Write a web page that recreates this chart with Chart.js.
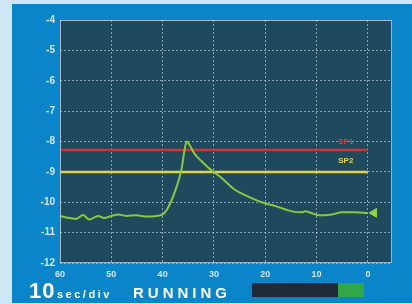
<!DOCTYPE html>
<html>
<head>
<meta charset="utf-8">
<script src="https://cdn.jsdelivr.net/npm/chart.js@4/dist/chart.umd.min.js"></script>
<style>
  html, body { margin: 0; padding: 0; }
  body { width: 412px; height: 304px; background: #cfe6f6; position: relative; overflow: hidden; }
  #panel { position: absolute; left: 12px; top: 4px; width: 400px; height: 299px; background: #0a85c9; }
  canvas { display: block; }
</style>
</head>
<body>
<div id="panel"><canvas id="trend" width="400" height="299"></canvas></div>
<script>
// seconds ago (60 = left edge, 0 = now)
const secondsAgo = [60, 58.8, 56.9, 55.5, 54.3, 52.6, 51.4, 50, 48.6, 47.1, 45.1, 43.2, 41.2, 39.8, 38.7, 37.5,
  36.3, 35.7, 35.3, 34.8, 33.8, 32.4, 30.5, 28.5, 26, 23.5, 20.7, 18.1, 14.8, 12.8, 12.3, 10.9, 9.5, 7.0, 5.0, 2.5, 0];
const pressure = [-10.45, -10.5, -10.55, -10.42, -10.57, -10.45, -10.52, -10.45, -10.4, -10.45, -10.43, -10.47, -10.45, -10.38, -10.1, -9.6,
  -8.9, -8.25, -8.0, -8.1, -8.4, -8.65, -8.95, -9.2, -9.58, -9.8, -10.0, -10.12, -10.3, -10.33, -10.3, -10.36, -10.43, -10.4, -10.33, -10.33, -10.35];

const sp1 = -8.28;
const sp2 = -9.0;
const xTicks = [60, 50, 40, 30, 20, 10, 0];
const yTicks = [-4, -5, -6, -7, -8, -9, -10, -11, -12];

const gridColor = 'rgba(210,220,230,0.6)';
const tickColor = '#d6e6f3';

const panelDeco = {
  id: 'panelDeco',
  beforeDraw(chart) {
    const { ctx, chartArea: a } = chart;
    ctx.save();
    ctx.fillStyle = '#1f4a5e';
    ctx.fillRect(a.left, a.top, a.right - a.left, a.bottom - a.top);
    ctx.restore();
  },
  afterDatasetsDraw(chart) {
    const { ctx, chartArea: a, scales } = chart;
    ctx.save();
    ctx.strokeStyle = 'rgba(190,205,215,0.8)';
    ctx.lineWidth = 1;
    ctx.strokeRect(a.left + 0.5, a.top + 0.5, a.right - a.left - 1, a.bottom - a.top - 1);

    // setpoint labels
    ctx.font = 'bold 8px "Liberation Sans", Arial, sans-serif';
    ctx.textAlign = 'center';
    ctx.textBaseline = 'middle';
    const lx = scales.x.getPixelForValue(4.3);
    ctx.fillStyle = '#e83a3a';
    ctx.fillText('SP1', lx, scales.y.getPixelForValue(-8.0));
    ctx.fillStyle = '#e6d24a';
    ctx.fillText('SP2', lx, scales.y.getPixelForValue(-8.65));

    // footer
    ctx.fillStyle = '#ffffff';
    ctx.textAlign = 'left';
    ctx.textBaseline = 'alphabetic';
    ctx.font = 'bold 22px "Liberation Sans", Arial, sans-serif';
    ctx.letterSpacing = '1px';
    ctx.fillText('10', 17, 294);
    ctx.font = 'bold 11px "Liberation Sans", Arial, sans-serif';
    ctx.letterSpacing = '2.5px';
    ctx.fillText('sec/div', 45, 294);
    ctx.font = 'bold 15px "Liberation Sans", Arial, sans-serif';
    ctx.letterSpacing = '4px';
    ctx.fillText('RUNNING', 121, 294);
    ctx.letterSpacing = '0px';

    ctx.fillStyle = '#1f2a38';
    ctx.fillRect(240, 279, 86, 14);
    ctx.fillStyle = '#30a84a';
    ctx.fillRect(326, 279, 26, 14);
    ctx.restore();
  }
};

new Chart(document.getElementById('trend'), {
  type: 'line',
  data: {
    datasets: [
      {
        data: secondsAgo.map((s, i) => ({ x: s, y: pressure[i] })),
        borderColor: '#8cc83e',
        borderWidth: 2,
        pointRadius: 0,
        cubicInterpolationMode: 'monotone'
      },
      {
        data: [{ x: 60, y: sp1 }, { x: 0, y: sp1 }],
        borderColor: '#e42a2e',
        borderWidth: 2.5,
        pointRadius: 0
      },
      {
        data: [{ x: 60, y: sp2 }, { x: 0, y: sp2 }],
        borderColor: '#e2d24c',
        borderWidth: 2.5,
        pointRadius: 0
      },
      {
        data: [{ x: -1.2, y: pressure[pressure.length - 1] }],
        showLine: false,
        pointStyle: 'triangle',
        rotation: -90,
        pointRadius: 5,
        backgroundColor: '#8fd83a',
        borderColor: '#8fd83a'
      }
    ]
  },
  options: {
    responsive: false,
    animation: false,
    layout: { padding: { top: 16, right: 20, left: 0, bottom: 0 } },
    plugins: { legend: { display: false }, tooltip: { enabled: false } },
    scales: {
      x: {
        type: 'linear',
        reverse: true,
        min: -4.7,
        max: 60,
        afterBuildTicks: s => { s.ticks = xTicks.map(v => ({ value: v })); },
        afterFit: s => { s.height = 40; },
        grid: { color: gridColor, drawTicks: false, lineWidth: 1 },
        border: { display: false, dash: [2, 2] },
        ticks: {
          color: tickColor,
          padding: 6,
          maxRotation: 0,
          font: { family: '"Liberation Sans", Arial, sans-serif', size: 9, weight: 'bold' }
        }
      },
      y: {
        min: -12,
        max: -4,
        afterBuildTicks: s => { s.ticks = yTicks.map(v => ({ value: v })); },
        afterFit: s => { s.width = 48; },
        grid: { color: gridColor, drawTicks: false, lineWidth: 1 },
        border: { display: false, dash: [2, 2] },
        ticks: {
          color: tickColor,
          padding: 5,
          font: { family: '"Liberation Sans", Arial, sans-serif', size: 10, weight: 'bold' }
        }
      }
    }
  },
  plugins: [panelDeco]
});
</script>
</body>
</html>
